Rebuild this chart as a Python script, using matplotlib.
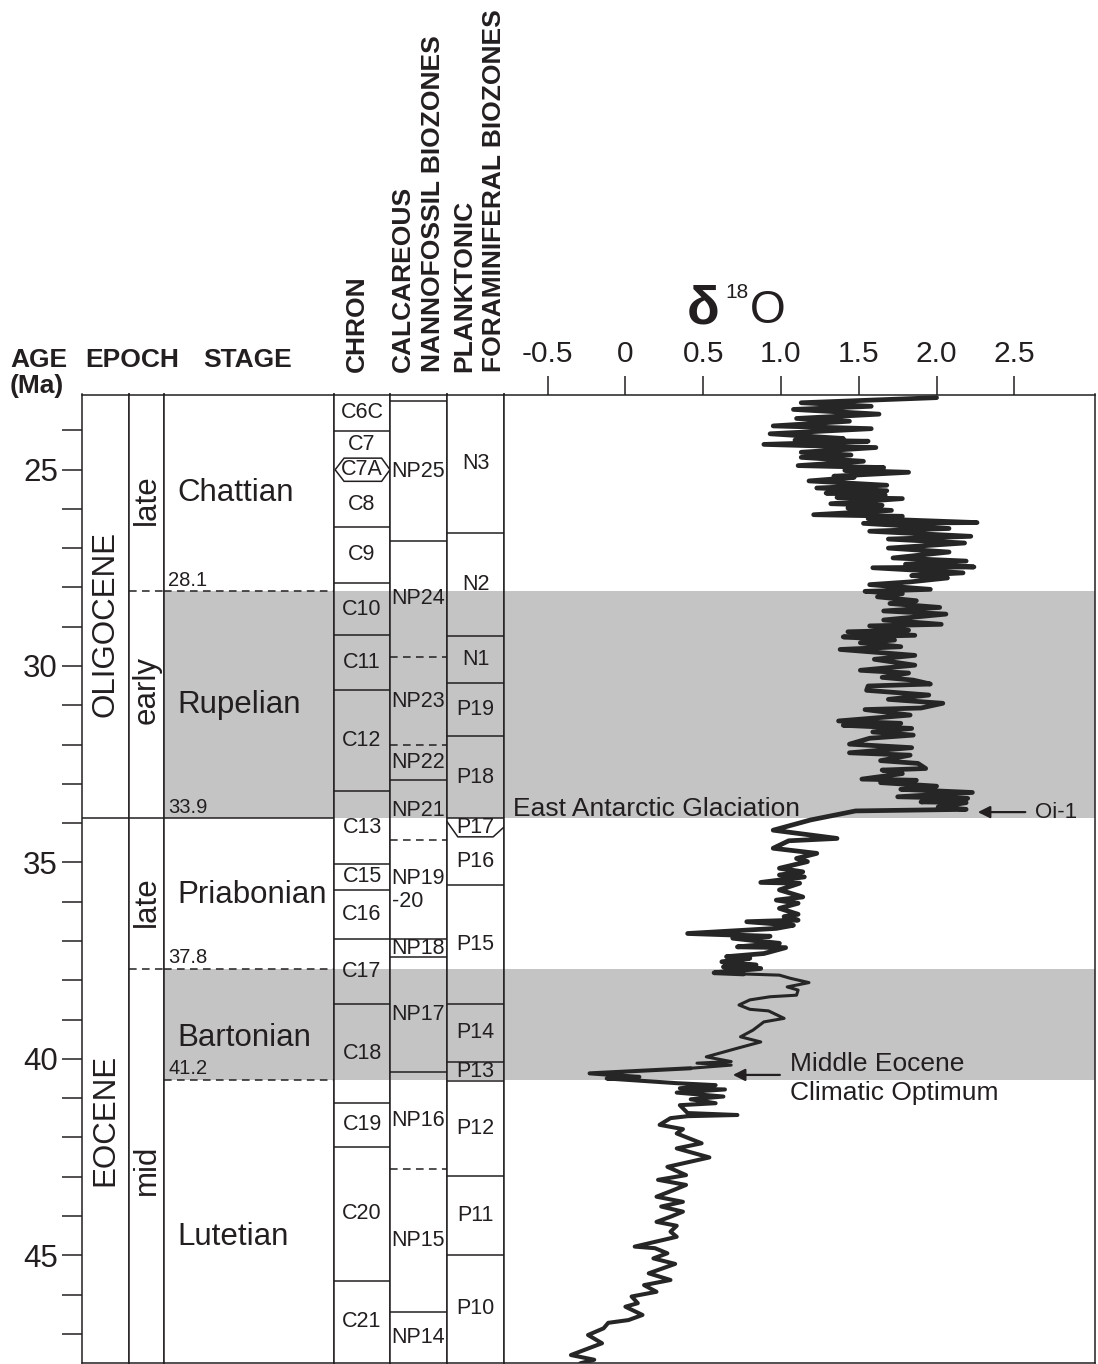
import numpy as np
import matplotlib
matplotlib.use('Agg')
import matplotlib.pyplot as plt
from matplotlib.patches import Polygon

plt.rcParams['font.family'] = ['Liberation Sans', 'DejaVu Sans']

INK = '#231f20'
GREY = '#c4c4c4'

#=========================================
# time scale (ages in Ma)
#=========================================
age_top, age_bottom = 23.09, 47.73

epochs = ['OLIGOCENE', 'EOCENE']
epoch_bounds = [age_top, 33.88, age_bottom]

subepochs = ['late', 'early', 'late', 'mid']
sub_bounds = [age_top, 28.10, 33.88, 37.71, age_bottom]

stages = ['Chattian', 'Rupelian', 'Priabonian', 'Bartonian', 'Lutetian']
stage_bounds = [age_top, 28.10, 33.88, 37.71, 40.54, age_bottom]
stage_bound_labels = ['28.1', '33.9', '37.8', '41.2']
shaded_stages = ['Rupelian', 'Bartonian']

chrons = ['C6C', 'C7', 'C7A', 'C8', 'C9', 'C10', 'C11', 'C12', 'C13',
          'C15', 'C16', 'C17', 'C18', 'C19', 'C20', 'C21']
chron_bounds = [age_top, 24.02, 24.71, 25.30, 26.46, 27.89, 29.22, 30.62,
                33.18, 35.03, 35.71, 36.95, 38.60, 41.12, 42.24, 45.65, age_bottom]

np_zones = ['', 'NP25', 'NP24', 'NP23', 'NP22', 'NP21', 'NP19\n-20',
            'NP18', 'NP17', 'NP16', 'NP15', 'NP14']
np_bounds = [age_top, 23.26, 26.82, 29.77, 32.02, 32.91, 34.44, 36.96,
             37.42, 40.33, 42.80, 46.44, age_bottom]
np_dashed = [29.77, 32.02, 34.44, 42.80]

pf_zones = ['N3', 'N2', 'N1', 'P19', 'P18', 'P17', 'P16', 'P15', 'P14',
            'P13', 'P12', 'P11', 'P10']
pf_bounds = [age_top, 26.61, 29.23, 30.43, 31.79, 33.88, 34.35, 35.58,
             38.60, 40.07, 40.56, 42.97, 44.99, age_bottom]

#=========================================
# benthic d18O record
#=========================================
d18o_age = [
    23.17, 23.30, 23.39, 23.47, 23.59, 23.70, 23.77, 23.89, 23.96, 24.09,
    24.21, 24.25, 24.28, 24.36, 24.44, 24.56, 24.63, 24.69, 24.79, 24.90,
    24.95, 25.02, 25.07, 25.17, 25.20, 25.29, 25.40, 25.47, 25.54, 25.60,
    25.65, 25.71, 25.74, 25.87, 25.91, 25.98, 26.04, 26.15, 26.19, 26.25,
    26.35, 26.37, 26.50, 26.57, 26.70, 26.77, 26.87, 27.00, 27.10, 27.25,
    27.33, 27.41, 27.48, 27.50, 27.63, 27.70, 27.76, 27.86, 27.93, 28.05,
    28.10, 28.16, 28.24, 28.34, 28.41, 28.51, 28.60, 28.68, 28.83, 28.94,
    28.98, 29.09, 29.13, 29.22, 29.26, 29.34, 29.41, 29.51, 29.58, 29.73,
    29.83, 29.98, 30.11, 30.18, 30.29, 30.36, 30.46, 30.51, 30.62, 30.74,
    30.85, 30.95, 31.07, 31.11, 31.25, 31.40, 31.46, 31.51, 31.59, 31.68,
    31.76, 31.84, 31.99, 32.08, 32.21, 32.27, 32.41, 32.48, 32.61, 32.65,
    32.74, 32.88, 32.91, 32.97, 33.06, 33.14, 33.22, 33.33, 33.37, 33.46,
    33.48, 33.59, 33.65, 33.69, 33.77, 33.92, 34.18, 34.39, 34.45, 34.64,
    34.77, 34.90, 34.98, 35.15, 35.24, 35.32, 35.37, 35.51, 35.53, 35.70,
    35.88, 35.96, 36.04, 36.17, 36.32, 36.38, 36.47, 36.51, 36.60, 36.68,
    36.81, 36.88, 36.93, 37.06, 37.15, 37.17, 37.32, 37.40, 37.44, 37.53,
    37.61, 37.66, 37.70, 37.81, 37.84, 37.87, 37.95, 38.06, 38.17, 38.25,
    38.38, 38.42, 38.50, 38.63, 38.74, 38.78, 38.97, 39.06, 39.27, 39.44,
    39.57, 39.73, 39.95, 40.07, 40.11, 40.16, 40.24, 40.37, 40.46, 40.50,
    40.62, 40.67, 40.75, 40.78, 40.86, 40.96, 41.03, 41.13, 41.18, 41.38,
    41.43, 41.46, 41.51, 41.68, 41.79, 41.90, 42.15, 42.28, 42.51, 42.75,
    42.96, 43.08, 43.21, 43.34, 43.51, 43.64, 43.76, 43.89, 44.02, 44.15,
    44.25, 44.40, 44.53, 44.78, 44.82, 44.95, 45.08, 45.22, 45.46, 45.63,
    45.76, 45.93, 46.05, 46.22, 46.31, 46.52, 46.65, 46.72, 46.86, 47.03,
    47.24, 47.54, 47.66, 47.75]
d18o_val = [
    2.00, 1.13, 1.58, 1.08, 1.63, 1.10, 1.44, 0.95, 1.58, 0.93,
    1.40, 1.09, 1.56, 0.89, 1.61, 1.13, 1.45, 1.13, 1.53, 1.11,
    1.66, 1.41, 1.82, 1.34, 1.47, 1.18, 1.68, 1.23, 1.68, 1.29,
    1.67, 1.36, 1.78, 1.32, 1.65, 1.43, 1.71, 1.21, 1.78, 1.56,
    2.26, 1.53, 2.08, 1.57, 2.22, 1.69, 2.18, 1.69, 2.08, 1.72,
    2.19, 1.80, 2.24, 1.59, 2.17, 1.84, 2.07, 1.83, 1.57, 1.96,
    1.54, 1.78, 1.62, 1.87, 1.70, 2.02, 1.66, 2.06, 1.66, 2.03,
    1.57, 1.82, 1.43, 1.86, 1.40, 1.73, 1.51, 1.77, 1.38, 1.86,
    1.60, 1.86, 1.51, 1.82, 1.65, 1.85, 1.96, 1.56, 1.55, 1.95,
    1.69, 2.04, 1.90, 1.54, 1.83, 1.37, 1.77, 1.40, 1.84, 1.59,
    1.85, 1.57, 1.44, 1.84, 1.44, 1.83, 1.64, 1.88, 1.93, 1.65,
    1.78, 1.52, 1.87, 1.64, 2.00, 1.77, 2.23, 1.75, 2.20, 1.90,
    2.19, 2.01, 2.19, 1.48, 1.38, 1.19, 0.95, 1.36, 1.05, 0.95,
    1.23, 1.10, 1.17, 0.99, 1.14, 0.99, 1.15, 0.87, 1.12, 0.99,
    1.14, 0.97, 1.11, 0.99, 1.11, 1.02, 1.11, 0.78, 1.08, 0.97,
    0.40, 0.93, 0.69, 0.99, 0.72, 1.03, 0.89, 0.65, 0.80, 0.62,
    0.84, 0.63, 0.87, 0.57, 0.76, 0.99, 1.06, 1.18, 1.04, 1.11,
    1.10, 0.93, 0.80, 0.73, 0.80, 0.92, 1.02, 0.89, 0.82, 0.74,
    0.87, 0.72, 0.52, 0.68, 0.46, 0.68, 0.42, -0.23, 0.09, -0.12,
    0.33, 0.58, 0.35, 0.64, 0.33, 0.63, 0.42, 0.58, 0.35, 0.40,
    0.72, 0.40, 0.29, 0.22, 0.37, 0.33, 0.49, 0.33, 0.54, 0.27,
    0.39, 0.21, 0.39, 0.31, 0.20, 0.37, 0.23, 0.37, 0.29, 0.20,
    0.33, 0.29, 0.33, 0.06, 0.19, 0.27, 0.18, 0.32, 0.15, 0.29,
    0.12, 0.20, 0.04, 0.08, 0.00, 0.11, 0.02, -0.11, -0.14, -0.24,
    -0.15, -0.35, -0.20, -0.29]

iso_ticks = [-0.5, 0, 0.5, 1.0, 1.5, 2.0, 2.5]
iso_tick_labels = ['-0.5', '0', '0.5', '1.0', '1.5', '2.0', '2.5']

#=========================================
# layout (pixels of the 1098 x 1364 canvas)
#=========================================
W, H = 1098, 1364
TOP, BOT = 394.5, 1362.5
fig = plt.figure(figsize=(W / 100, H / 100), dpi=100)


def column(x0, x1, xlim=(0, 1)):
    ax = fig.add_axes([x0 / W, 1 - BOT / H, (x1 - x0) / W, (BOT - TOP) / H])
    ax.set_xlim(*xlim)
    ax.set_ylim(age_bottom, age_top)
    ax.set_xticks([])
    ax.set_yticks([])
    for s in ax.spines.values():
        s.set_color(INK)
        s.set_linewidth(1.1)
    return ax


ax_epoch = column(82, 129)
ax_sub = column(129, 164)
ax_stage = column(164, 334)
ax_chron = column(334, 390)
ax_np = column(390, 447)
ax_pf = column(447, 504)
ax_iso = column(504, 1095, xlim=(-0.780, 3.018))

# grey bands for Rupelian and Bartonian
for ax in [ax_stage, ax_chron, ax_np, ax_pf, ax_iso]:
    for name in shaded_stages:
        i = stages.index(name)
        ax.axhspan(stage_bounds[i], stage_bounds[i + 1], color=GREY, lw=0, zorder=0)

dash = dict(color=INK, lw=1.1, dashes=(5, 3.5))
solid = dict(color=INK, lw=1.1)

# age axis
ax_epoch.set_yticks([25, 30, 35, 40, 45])
ax_epoch.set_yticks([a for a in range(24, 48) if a % 5], minor=True)
ax_epoch.tick_params(axis='y', which='both', direction='out', length=14.4,
                     width=1.1, color=INK, labelsize=22.5, labelcolor=INK, pad=3)

# epochs
for i, name in enumerate(epochs):
    if i > 0:
        for ax in [ax_epoch, ax_sub, ax_stage]:
            ax.axhline(epoch_bounds[i], **solid)
label_age = {'OLIGOCENE': 28.94, 'EOCENE': 41.56}
for name in epochs:
    ax_epoch.text(0.5, label_age[name], name, rotation=90, ha='center',
                  va='center', fontsize=22.5, color=INK)

sub_label_age = [25.76, 30.62, 35.99, 42.83]
for i, name in enumerate(subepochs):
    ax_sub.text(0.5, sub_label_age[i], name, rotation=90, ha='center',
                va='center', fontsize=22.5, color=INK)
    if i > 0 and sub_bounds[i] not in epoch_bounds:
        ax_sub.axhline(sub_bounds[i], **dash)

# stages
stage_label_age = [25.6, 31.0, 35.83, 39.47, 44.53]
for i, name in enumerate(stages):
    ax_stage.text(0.076, stage_label_age[i], name, ha='left', va='center',
                  fontsize=22.5, color=INK)
for b, lbl in zip(stage_bounds[1:-1], stage_bound_labels):
    if b not in epoch_bounds:
        ax_stage.axhline(b, **dash)
    ax_stage.annotate(lbl, (0.024, b), xytext=(0, 4), textcoords='offset points',
                      ha='left', va='baseline', fontsize=14.5, color=INK)

# chrons
for i, name in enumerate(chrons):
    a0, a1 = chron_bounds[i], chron_bounds[i + 1]
    mid = (a0 + a1) / 2
    if name == 'C7A':
        ax_chron.add_patch(Polygon([(0.02, mid), (0.18, a0), (0.85, a0), (1.0, mid),
                                    (0.85, a1), (0.18, a1)], closed=True,
                                   fill=False, ec=INK, lw=1.1))
    else:
        if i > 0 and chrons[i - 1] != 'C7A':
            ax_chron.axhline(a0, **solid)
    ax_chron.text(0.5, mid, name, ha='center', va='center', fontsize=15.5, color=INK)

# calcareous nannofossil zones
for i, name in enumerate(np_zones):
    a0, a1 = np_bounds[i], np_bounds[i + 1]
    if i > 0:
        ax_np.axhline(a0, **(dash if a0 in np_dashed else solid))
    ax_np.text(0.03, (a0 + a1) / 2, name, ha='left', va='center', fontsize=15.5,
               color=INK, linespacing=1.15)

# planktonic foraminiferal zones
for i, name in enumerate(pf_zones):
    a0, a1 = pf_bounds[i], pf_bounds[i + 1]
    if name == 'P17':
        ax_pf.axhline(a0, **solid)
        ax_pf.plot([0.0, 0.19, 0.81, 1.0], [a0 + 0.08, a1, a1, a0 + 0.22], **solid)
    elif i > 0 and pf_zones[i - 1] != 'P17':
        ax_pf.axhline(a0, **solid)
    ax_pf.text(0.5, (a0 + a1) / 2, name, ha='center', va='center', fontsize=15.5, color=INK)

# d18O curve
age = np.array(d18o_age)
val = np.array(d18o_val)
segments = [(age <= 37.84, 3.4), ((age >= 37.84) & (age <= 40.24), 2.2), (age >= 40.24, 2.9)]
for mask, lw in segments:
    ax_iso.plot(val[mask], age[mask], color='#262626', lw=lw,
                solid_joinstyle='round', solid_capstyle='round', zorder=3)

ax_iso.xaxis.set_ticks_position('top')
ax_iso.set_xticks(iso_ticks)
ax_iso.set_xticklabels(iso_tick_labels)
ax_iso.tick_params(axis='x', direction='out', length=13.7, width=1.1, color=INK,
                   labelsize=21.5, labelcolor=INK, pad=5.5)

arrow = dict(arrowstyle='-|>', color=INK, lw=1.6, mutation_scale=18,
             shrinkA=0, shrinkB=0)
ax_iso.text(-0.722, 33.82, 'East Antarctic Glaciation', ha='left', va='baseline',
            fontsize=19, color=INK, zorder=4)
ax_iso.annotate('', xy=(2.265, 33.72), xytext=(2.57, 33.72), arrowprops=arrow)
ax_iso.text(2.63, 33.72, 'Oi-1', ha='left', va='center', fontsize=16, color=INK)
ax_iso.annotate('', xy=(0.691, 40.41), xytext=(0.993, 40.41), arrowprops=arrow)
ax_iso.text(1.057, 40.31, 'Middle Eocene', ha='left', va='baseline', fontsize=19, color=INK)
ax_iso.text(1.057, 41.05, 'Climatic Optimum', ha='left', va='baseline', fontsize=19, color=INK)

# headers
def fig_text(x, y, s, **kw):
    fig.text(x / W, 1 - y / H, s, color=INK, **kw)


for x, s in [(10, 'AGE'), (85, 'EPOCH'), (203, 'STAGE')]:
    fig_text(x, 367, s, fontsize=19, fontweight='bold', va='baseline', ha='left')
fig_text(10, 393, '(Ma)', fontsize=19, fontweight='bold', va='baseline', ha='left')
for x, s in [(356.7, 'CHRON'), (402.5, 'CALCAREOUS'), (432.5, 'NANNOFOSSIL BIOZONES'),
             (464, 'PLANKTONIC'), (494, 'FORAMINIFERAL BIOZONES')]:
    fig_text(x, 372, s, fontsize=19, fontweight='bold', rotation=90,
             ha='center', va='bottom')

fig_text(687, 324, '\u03b4', fontsize=39, fontweight='bold', va='baseline', ha='left')
fig_text(725, 298, '18', fontsize=15, va='baseline', ha='left')
fig_text(750, 323, 'O', fontsize=33, va='baseline', ha='left')

fig.savefig('out.png', dpi=100, facecolor='white')
